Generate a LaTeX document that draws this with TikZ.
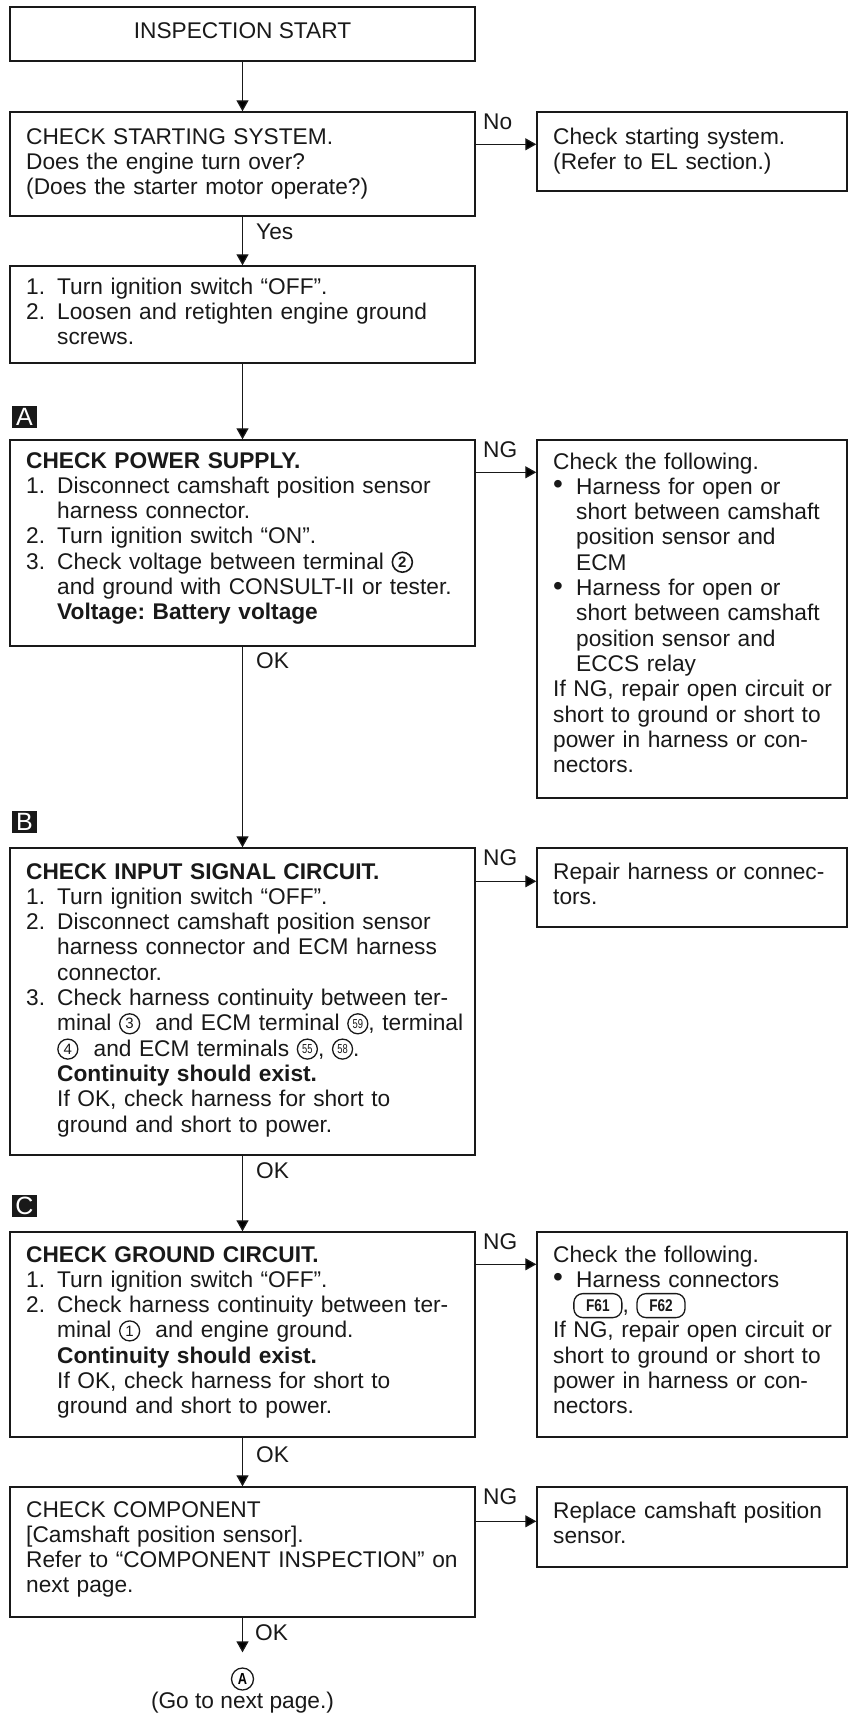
\documentclass[tikz,border=0pt]{standalone}
\usepackage{fontspec}
\setmainfont{Liberation Sans}
\usetikzlibrary{arrows.meta}
\setlength{\parindent}{0pt}
\frenchspacing
\newcommand\cnum[1]{\tikz[baseline={([yshift=-7pt]cn.center)}]\node[circle,draw=black!90,line width=1.3pt,minimum size=20pt,inner sep=0pt,font=\fontsize{15}{15}\selectfont](cn){#1};}
\newcommand\cnumb[1]{\tikz[baseline={([yshift=-7pt]cn.center)}]\node[circle,draw=black!90,line width=1.6pt,minimum size=20pt,inner sep=0pt,font=\bfseries\fontsize{15}{15}\selectfont](cn){#1};}
\newcommand\cnumm[1]{\tikz[baseline={([yshift=-7pt]cn.center)}]\node[circle,draw=black!90,line width=1.3pt,minimum size=20pt,inner sep=0pt,font=\fontsize{13}{13}\selectfont](cn){\scalebox{0.72}[1]{#1}};}
\newcommand\conn[1]{\tikz[baseline={([yshift=-7pt]cn.center)}]\node[draw=black!90,line width=1.3pt,rounded corners=9pt,minimum width=48pt,minimum height=24pt,inner sep=0pt,font=\bfseries\fontsize{17}{17}\selectfont](cn){\scalebox{0.8}[1]{#1}};}
\newcommand\itm[1]{\makebox[31pt][l]{#1}}
\newcommand\ind{\hspace*{31pt}}
\newcommand\bul{\makebox[23pt][l]{\raisebox{0.5pt}{\fontsize{28}{28}\selectfont\textbullet}}}
\newcommand\bind{\hspace*{23pt}}
\tikzset{
  box/.style={draw=black!90, line width=1.4pt, rectangle, inner sep=0pt},
  lbox/.style={box, minimum width=465pt},
  rbox/.style={box, minimum width=310pt},
  txt/.style={anchor=base west, inner sep=0pt, text width=600pt, align=left,
              font=\fontsize{22.7}{25.3}\selectfont, text=black!90},
  lbl/.style={anchor=base west, inner sep=0pt, font=\fontsize{22.7}{25.3}\selectfont, text=black!90},
  arr/.style={draw=black!90, line width=1.3pt, -{Triangle[length=11pt,width=12pt]}},
  marker/.style={fill=black!90, text=white, minimum width=25pt, minimum height=22pt,
                 inner sep=0pt, font=\fontsize{25}{25}\selectfont},
}
\begin{document}
\begin{tikzpicture}[x=1pt,y=-1pt]
\useasboundingbox (0,0) rectangle (850,1716);
\fill[white] (0,0) rectangle (850,1716);

% boxes
\node[lbox, minimum height=54pt]  (b1) at (242.5,34) {};
\node[lbox, minimum height=104pt] (b2) at (242.5,164) {};
\node[rbox, minimum height=79pt]  (r1) at (692,151.5) {};
\node[lbox, minimum height=97pt]  (b3) at (242.5,314.5) {};
\node[lbox, minimum height=206pt] (b4) at (242.5,543) {};
\node[rbox, minimum height=358pt] (r2) at (692,619) {};
\node[lbox, minimum height=307pt] (b5) at (242.5,1001.5) {};
\node[rbox, minimum height=79pt]  (r3) at (692,887.5) {};
\node[lbox, minimum height=205pt] (b6) at (242.5,1334.5) {};
\node[rbox, minimum height=205pt] (r4) at (692,1334.5) {};
\node[lbox, minimum height=130pt] (b7) at (242.5,1552) {};
\node[rbox, minimum height=80pt]  (r5) at (692,1527) {};

% texts
\node[lbl, anchor=base] (t1) at (242.5,38) {INSPECTION START};
\node[txt] (t2) at (26,144) {CHECK STARTING SYSTEM.\\
Does the engine turn over?\\
(Does the starter motor operate?)};
\node[txt] (tr1) at (553,144) {Check starting system.\\
(Refer to EL section.)};
\node[txt] (t3) at (26,294) {\itm{1.}Turn ignition switch “OFF”.\\
\itm{2.}Loosen and retighten engine ground\\
\ind screws.};
\node[txt] (t4) at (26,468) {\textbf{CHECK POWER SUPPLY.}\\
\itm{1.}Disconnect camshaft position sensor\\
\ind harness connector.\\
\itm{2.}Turn ignition switch “ON”.\\
\itm{3.}Check voltage between terminal \cnumb{2}\\
\ind and ground with CONSULT-II or tester.\\
\ind\textbf{Voltage: Battery voltage}};
\node[txt] (tr2) at (553,469) {Check the following.\\
\bul Harness for open or\\
\bind short between camshaft\\
\bind position sensor and\\
\bind ECM\\
\bul Harness for open or\\
\bind short between camshaft\\
\bind position sensor and\\
\bind ECCS relay\\
If NG, repair open circuit or\\
short to ground or short to\\
power in harness or con-\\
nectors.};
\node[txt] (t5) at (26,879) {\textbf{CHECK INPUT SIGNAL CIRCUIT.}\\
\itm{1.}Turn ignition switch “OFF”.\\
\itm{2.}Disconnect camshaft position sensor\\
\ind harness connector and ECM harness\\
\ind connector.\\
\itm{3.}Check harness continuity between ter-\\
\ind minal \cnum{3}\ \ and ECM terminal \cnumm{59}, terminal\\
\ind\cnum{4}\ \ and ECM terminals \cnumm{55}, \cnumm{58}.\\
\ind\textbf{Continuity should exist.}\\
\ind If OK, check harness for short to\\
\ind ground and short to power.};
\node[txt] (tr3) at (553,879) {Repair harness or connec-\\
tors.};
\node[txt] (t6) at (26,1262) {\textbf{CHECK GROUND CIRCUIT.}\\
\itm{1.}Turn ignition switch “OFF”.\\
\itm{2.}Check harness continuity between ter-\\
\ind minal \cnum{1}\ \ and engine ground.\\
\ind\textbf{Continuity should exist.}\\
\ind If OK, check harness for short to\\
\ind ground and short to power.};
\node[txt] (tr4) at (553,1262) {Check the following.\\
\bul Harness connectors\\
\hspace*{20pt}\conn{F61}, \conn{F62}\\
If NG, repair open circuit or\\
short to ground or short to\\
power in harness or con-\\
nectors.};
\node[txt] (t7) at (26,1517) {CHECK COMPONENT\\
{[}Camshaft position sensor{]}.\\
Refer to “COMPONENT INSPECTION” on\\
next page.};
\node[txt] (tr5) at (553,1518) {Replace camshaft position\\
sensor.};

% markers
\node[marker] (mA) at (24.5,417) {A};
\node[marker] (mB) at (24.5,822) {B};
\node[marker] (mC) at (24.5,1206) {C};

% end
\node[circle, draw=black!90, line width=1.3pt, minimum size=22pt, inner sep=0pt,
      font=\bfseries\fontsize{16}{16}\selectfont] (ca) at (242.5,1679) {\scalebox{0.8}[1]{A}};
\node[lbl, anchor=base] (gonext) at (242.5,1708) {(Go to next page.)};

% main flow
\draw[arr] (b1.south) -- (b2.north);
\draw[arr] (b2.south) -- (b3.north);
\draw[arr] (b3.south) -- (b4.north);
\draw[arr] (b4.south) -- (b5.north);
\draw[arr] (b5.south) -- (b6.north);
\draw[arr] (b6.south) -- (b7.north);
\draw[arr] (b7.south) -- ([yshift=15pt]ca.north);

% side flows
\draw[arr] ([yshift=-33pt]b2.north east) -- ([yshift=-33pt]r1.north west);
\draw[arr] ([yshift=-33pt]b4.north east) -- ([yshift=-33pt]r2.north west);
\draw[arr] ([yshift=-34pt]b5.north east) -- ([yshift=-34pt]r3.north west);
\draw[arr] ([yshift=-33pt]b6.north east) -- ([yshift=-33pt]r4.north west);
\draw[arr] ([yshift=-35pt]b7.north east) -- ([yshift=-35pt]r5.north west);

% labels
\node[lbl] (lno) at (483,129) {No};
\node[lbl] (lng4) at (483,457) {NG};
\node[lbl] (lng5) at (483,865) {NG};
\node[lbl] (lng6) at (483,1249) {NG};
\node[lbl] (lng7) at (483,1504) {NG};
\node[lbl] (lyes) at (256,239) {Yes};
\node[lbl] (lok4) at (256,668) {OK};
\node[lbl] (lok5) at (256,1178) {OK};
\node[lbl] (lok6) at (256,1462) {OK};
\node[lbl] (lok7) at (255,1640) {OK};
\end{tikzpicture}
\end{document}
